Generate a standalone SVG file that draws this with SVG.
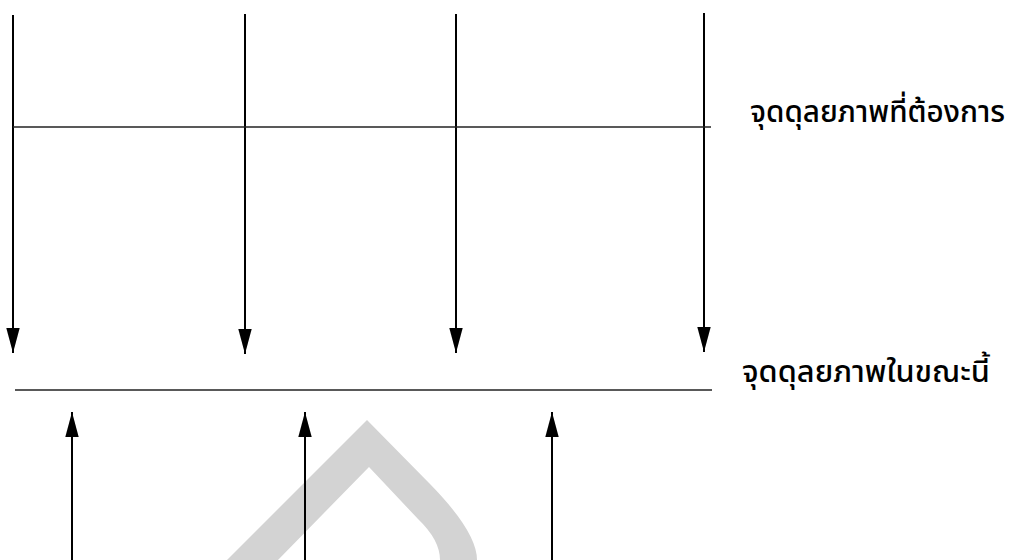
<svg xmlns="http://www.w3.org/2000/svg" width="1009" height="560" viewBox="0 0 1009 560">
<style>
.arr{stroke:#000;stroke-width:2;fill:none;marker-end:url(#ah)}
.hl{stroke:#222;stroke-width:1.6;fill:none}
.lbl{font-family:"Noto Sans Thai","Noto Sans","DejaVu Sans",sans-serif;font-size:30px;font-weight:500;fill:#000}
</style>
<defs>
<marker id="ah" markerUnits="userSpaceOnUse" markerWidth="26" markerHeight="14" refX="25" refY="6.7" orient="auto">
<path d="M0,0 L25,6.7 L0,13.4 Z" fill="#000"/>
</marker>
</defs>
<rect width="1009" height="560" fill="#fff"/>
<g id="watermark">
<path d="M227,560 L367,420 L430,484 Q477,532 477,560 L440,560 Q440,540 418,519 L369,467 L278,560 Z" fill="#d3d3d3"/>
</g>
<g id="connectors">
<line class="arr" x1="13" y1="15" x2="13" y2="353"/>
<line class="arr" x1="245" y1="14" x2="245" y2="354"/>
<line class="arr" x1="456" y1="14" x2="456" y2="353"/>
<line class="arr" x1="704" y1="13" x2="704" y2="352"/>
<line class="arr" x1="72" y1="560" x2="72" y2="412"/>
<line class="arr" x1="305" y1="560" x2="305" y2="412"/>
<line class="arr" x1="552" y1="560" x2="552" y2="412"/>
</g>
<g id="desired">
<line class="hl" x1="13" y1="127" x2="711" y2="127"/>
<text class="lbl" x="750" y="122" textLength="255" lengthAdjust="spacingAndGlyphs">จุดดุลยภาพที่ต้องการ</text>
</g>
<g id="current">
<line class="hl" x1="15" y1="390" x2="712" y2="390"/>
<text class="lbl" x="742" y="382" textLength="248" lengthAdjust="spacingAndGlyphs">จุดดุลยภาพในขณะนี้</text>
</g>
</svg>
